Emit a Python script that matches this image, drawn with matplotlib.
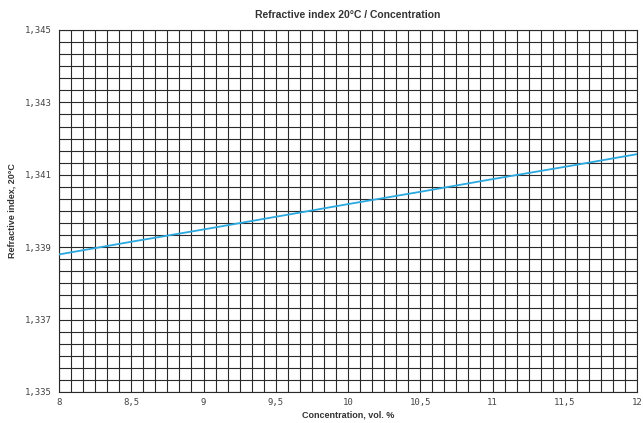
import matplotlib
matplotlib.use("Agg")
import matplotlib.pyplot as plt
import numpy as np
from matplotlib.ticker import MultipleLocator, FuncFormatter

# Data
concentration = [8.0, 8.5, 9.0, 9.5, 10.0, 10.5, 11.0, 11.5, 12.0]
refractive_index = [1.33880, 1.33915, 1.33949, 1.33984, 1.34019, 1.34053, 1.34088, 1.34122, 1.34157]
x_ticks = [8, 8.5, 9, 9.5, 10, 10.5, 11, 11.5, 12]
y_ticks = [1.335, 1.337, 1.339, 1.341, 1.343, 1.345]

title = "Refractive index 20°C / Concentration"
xlabel = "Concentration, vol. %"
ylabel = "Refractive index, 20°C"

fig = plt.figure(figsize=(6.43, 4.23), dpi=100)
ax = fig.add_axes([59/643, 1-392/423, (637-59)/643, (392-30)/423])

ax.set_xlim(8, 12)
ax.set_ylim(1.335, 1.345)

# grid
ax.xaxis.set_minor_locator(MultipleLocator(1/12))
ax.yaxis.set_minor_locator(MultipleLocator(0.001/3))
ax.set_xticks(x_ticks)
ax.set_yticks(y_ticks)
ax.grid(which='both', color='#2a2a2a', linewidth=0.8)
ax.set_axisbelow(True)

ax.plot(concentration, refractive_index, color='#2aa8e0', linewidth=1.3, zorder=3)

def fmt_x(v, pos):
    s = f"{v:g}"
    return s.replace('.', ',')

def fmt_y(v, pos):
    return f"{v:.3f}".replace('.', ',')

ax.xaxis.set_major_formatter(FuncFormatter(fmt_x))
ax.yaxis.set_major_formatter(FuncFormatter(fmt_y))

ax.tick_params(which='both', length=0, labelsize=6.5, colors='#444444')
for lab in ax.get_xticklabels() + ax.get_yticklabels():
    lab.set_family('DejaVu Sans Mono')
ax.tick_params(axis='x', pad=4)
ax.tick_params(axis='y', pad=5)

for sp in ax.spines.values():
    sp.set_color('#2a2a2a')
    sp.set_linewidth(0.8)

ax.set_title(title, fontsize=7.5, fontweight='bold', family='Liberation Sans', color='#333333', pad=9)
ax.set_xlabel(xlabel, fontsize=6.5, fontweight='bold', family='Liberation Sans', color='#333333', labelpad=3)
ax.set_ylabel(ylabel, fontsize=6.5, fontweight='bold', family='Liberation Sans', color='#333333', labelpad=6)

fig.savefig("out.png", dpi=100)
